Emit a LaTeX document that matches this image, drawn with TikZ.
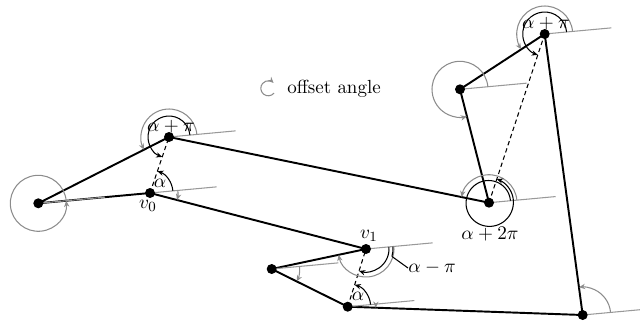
\documentclass[tikz,border=0pt]{standalone}
\usetikzlibrary{arrows.meta}
\begin{document}
\begin{tikzpicture}[x=0.02cm,y=0.02cm,
  edge/.style={line width=1.1pt, line join=round},
  refline/.style={black!40, line width=0.6pt},
  grayarc/.style={black!45, line width=0.6pt, -{Stealth[length=3.5pt,width=3pt]}},
  blackarc/.style={black, line width=0.6pt, -{Stealth[length=3.5pt,width=3pt]}},
  plainarc/.style={black, line width=0.6pt},
  dashedline/.style={line width=0.6pt, dash pattern=on 2.5pt off 1.8pt},
  lbl/.style={inner sep=0pt, font=\fontsize{10.8}{13}\selectfont}]
\useasboundingbox (0,0) rectangle (640,-322);
\clip (0,0) rectangle (640,-322);
% vertices
\coordinate (P0) at (38.3,-203.3);
\coordinate (P1) at (150,-193);
\coordinate (P2) at (169,-137);
\coordinate (P3) at (489,-202.7);
\coordinate (P4) at (460,-89.3);
\coordinate (P5) at (544.7,-34);
\coordinate (P6) at (582.7,-315);
\coordinate (P7) at (347.7,-306.7);
\coordinate (P8) at (271.7,-269);
\coordinate (P9) at (366,-249);
\coordinate (leg) at (268.3,-88.3);
% polygon edges
\draw[edge] (P0)--(P2)--(P3)--(P4)--(P5)--(P6)--(P7)--(P8)--(P9)--(P1)--cycle;
% dashed connectors
\draw[dashedline] (P1)--(P2);
\draw[dashedline] (P7)--(P9);
\draw[dashedline] (P3)--(P5);
% reference lines
\foreach \p in {P0,P1,P2,P3,P4,P5,P6,P7,P8,P9}
  \draw[refline] (\p) -- ++(5.27:1.34cm);
% offset angles (gray)
\draw[grayarc] (P0) ++(5.27:0.56cm) arc[start angle=5.27,end angle=365.27,radius=0.56cm];
\draw[grayarc] (P1) ++(5.27:0.56cm) arc[start angle=5.27,end angle=-14.53,radius=0.56cm];
\draw[grayarc] (P2) ++(5.27:0.56cm) arc[start angle=5.27,end angle=206.9,radius=0.56cm];
\draw[grayarc] (P3) ++(5.27:0.56cm) arc[start angle=5.27,end angle=168.4,radius=0.56cm];
\draw[grayarc] (P4) ++(5.27:0.56cm) arc[start angle=5.27,end angle=284.3,radius=0.56cm];
\draw[grayarc] (P5) ++(5.27:0.56cm) arc[start angle=5.27,end angle=213.1,radius=0.56cm];
\draw[grayarc] (P6) ++(5.27:0.56cm) arc[start angle=5.27,end angle=97.7,radius=0.56cm];
\draw[grayarc] (P7) ++(5.27:0.56cm) arc[start angle=5.27,end angle=-2.0,radius=0.56cm];
\draw[grayarc] (P8) ++(5.27:0.56cm) arc[start angle=5.27,end angle=-26.4,radius=0.56cm];
\draw[grayarc] (P9) ++(5.27:0.56cm) arc[start angle=5.27,end angle=-168.0,radius=0.56cm];
% alpha angles (black)
\draw[blackarc] (P1) ++(5.27:0.46cm) arc[start angle=5.27,end angle=71.26,radius=0.46cm];
\draw[blackarc] (P2) ++(5.27:0.42cm) arc[start angle=5.27,end angle=251.26,radius=0.42cm];
\draw[blackarc] (P5) ++(5.27:0.44cm) arc[start angle=5.27,end angle=251.73,radius=0.44cm];
\draw[blackarc] (P7) ++(5.27:0.46cm) arc[start angle=5.27,end angle=72.4,radius=0.46cm];
\draw[blackarc] (P9) ++(5.27:0.46cm) arc[start angle=5.27,end angle=-107.6,radius=0.46cm];
\draw[blackarc, shift={(P3)}] plot[domain=5.27:431.73, samples=120, smooth]
  ({(21.5+3.5*(\x-5.27)/426.46)*cos(\x)}, {(21.5+3.5*(\x-5.27)/426.46)*sin(\x)});
% alpha - pi marker and leader
\draw[plainarc] (P9) ++(5.27:0.54cm) arc[start angle=5.27,end angle=-16,radius=0.54cm] coordinate (lead);
\node[lbl, anchor=west] (lam) at (408,-268) {$\alpha-\pi$};
\draw[plainarc] (lead) -- (lam.west);
% labels
\node[lbl] (lv0) at (148,-206) {$v_0$};
\node[lbl] (la0) at (160,-183) {$\alpha$};
\node[lbl] (lap1) at (171,-127) {$\alpha+\pi$};
\node[lbl] (lap2) at (546,-24) {$\alpha+\pi$};
\node[lbl] (la2p) at (490,-234) {$\alpha+2\pi$};
\node[lbl] (la1) at (358,-296) {$\alpha$};
\node[lbl] (lv1) at (369,-236) {$v_1$};
% legend
\draw[grayarc] (leg) ++(-40:0.15cm) arc[start angle=-40,end angle=-315,radius=0.15cm];
\node[lbl, anchor=west] (legtext) at (287,-89) {offset angle};
% dots
\foreach \p in {P0,P1,P2,P3,P4,P5,P6,P7,P8,P9}
  \fill (\p) circle (0.1cm);
\end{tikzpicture}
\end{document}
